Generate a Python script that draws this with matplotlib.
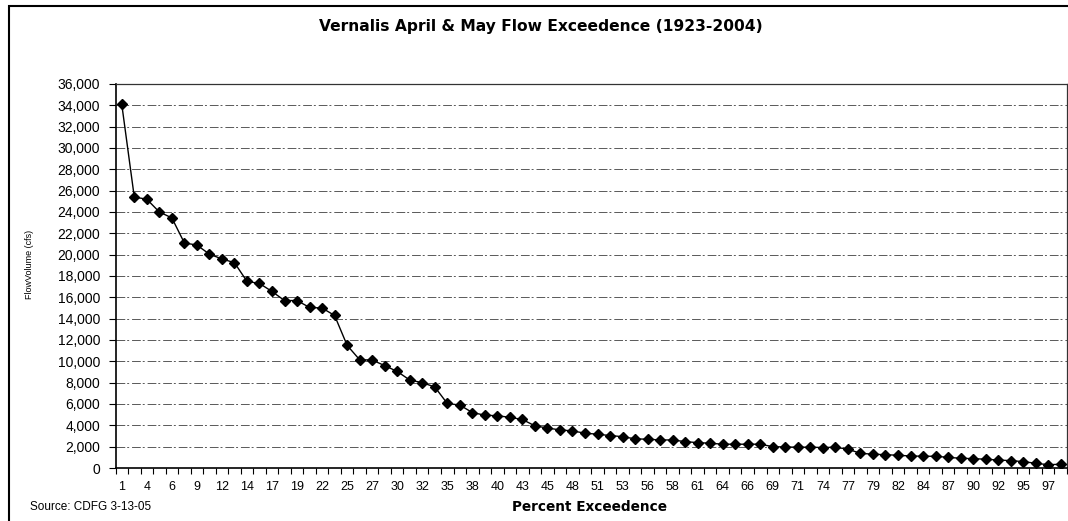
import matplotlib
matplotlib.use("Agg")
import matplotlib.pyplot as plt
import matplotlib.patches as patches
from matplotlib.ticker import FuncFormatter, MultipleLocator

plt.rcParams['font.family'] = ['Liberation Sans', 'DejaVu Sans']

# flow volume (cfs) for each ranked year, highest to lowest
flow = [34100, 25400, 25200, 24000, 23450, 21100, 20900, 20050, 19600, 19250,
        17500, 17300, 16550, 15700, 15700, 15050, 15000, 14300, 11500, 10150,
        10120, 9600, 9050, 8250, 8000, 7600, 6050, 5900, 5200, 4950,
        4900, 4750, 4550, 3950, 3750, 3570, 3480, 3260, 3170, 3040,
        2940, 2730, 2700, 2630, 2630, 2470, 2380, 2320, 2230, 2230,
        2230, 2230, 2000, 1970, 1950, 1950, 1920, 1950, 1760, 1380,
        1290, 1250, 1190, 1130, 1100, 1100, 1000, 910, 880, 820,
        750, 690, 600, 440, 310, 350]

# labels shown under every other point
pct_labels = ["1", "4", "6", "9", "12", "14", "17", "19", "22", "25", "27", "30",
              "32", "35", "38", "40", "43", "45", "48", "51", "53", "56", "58",
              "61", "64", "66", "69", "71", "74", "77", "79", "82", "84", "87",
              "90", "92", "95", "97"]

title = "Vernalis April & May Flow Exceedence (1923-2004)"

fig = plt.figure(figsize=(10.68, 5.21), dpi=100)
ax = fig.add_axes([115.5/1068, 1-468/521, 951.5/1068, 384/521])

x = list(range(1, len(flow)+1))
ax.plot(x, flow, color="black", lw=1.0, marker="D", markersize=5,
        markerfacecolor="black", markeredgecolor="black", zorder=3)

ax.set_xlim(0.5, len(flow)+0.5)
ax.set_ylim(0, 36000)

ax.yaxis.set_major_locator(MultipleLocator(2000))
ax.yaxis.set_major_formatter(FuncFormatter(lambda v, p: f"{int(v):,}"))
ax.grid(axis="y", color="0.35", lw=0.7, linestyle=(0, (9, 2, 2, 3)), zorder=1)

ax.set_xticks(x[::2])
ax.set_xticklabels(pct_labels)
ax.set_xticks([i + 0.5 for i in range(0, len(flow)+1)], minor=True)
ax.tick_params(axis="x", which="major", length=0, pad=9, labelsize=9)
ax.tick_params(axis="x", which="minor", length=4, width=0.8, direction="out")
ax.tick_params(axis="y", length=5, width=0.8, pad=6, labelsize=10)

for s in ["left", "bottom"]:
    ax.spines[s].set_linewidth(1.2)
for s in ["top", "right"]:
    ax.spines[s].set_linewidth(0.9)
    ax.spines[s].set_color("0.2")

fig.text(541/1068, 1-27/521, title, ha="center", va="center",
         fontsize=11.2, fontweight="bold", family="DejaVu Sans")
fig.text(30/1068, 1-264/521, "FlowVolume (cfs)", rotation=90,
         ha="center", va="center", fontsize=6.5)
fig.text(590/1068, 1-507/521, "Percent Exceedence", ha="center", va="center",
         fontsize=9.8, fontweight="bold", family="DejaVu Sans")
fig.text(30/1068, 1-507/521, "Source: CDFG 3-13-05", ha="left", va="center",
         fontsize=8.5)

# outer chart border
fig.patches.append(patches.Rectangle((9/1068, -0.05), 1.1, 1-6/521+0.05,
                                     transform=fig.transFigure, fill=False,
                                     lw=1.5, edgecolor="black"))

fig.savefig("out.png", dpi=100)
